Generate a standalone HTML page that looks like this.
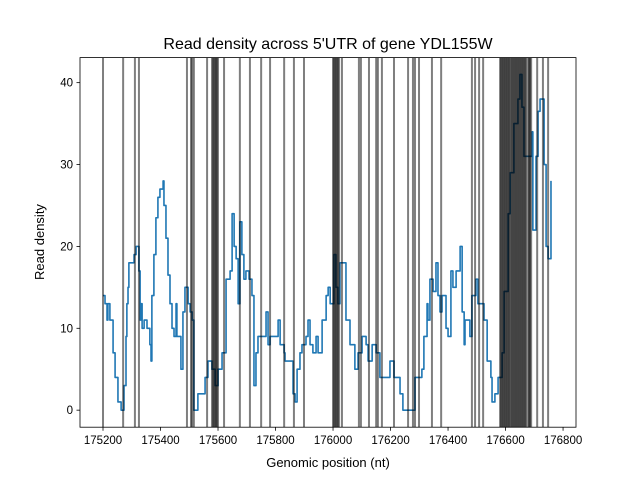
<!DOCTYPE html>
<html><head><meta charset="utf-8"><style>
body{margin:0;background:#fff;}
svg{font-family:"Liberation Sans","DejaVu Sans",sans-serif;}
</style></head><body>
<svg id="chart" width="640" height="480" viewBox="0 0 640 480">
<rect width="640" height="480" fill="#fff"/>
<text x="328" y="49" text-anchor="middle" font-size="16">Read density across 5'UTR of gene YDL155W</text>
<text x="328" y="467" text-anchor="middle" font-size="13">Genomic position (nt)</text>
<text x="44" y="242" text-anchor="middle" font-size="13" transform="rotate(-90 44 242)">Read density</text>
<g id="marks"></g>
<g id="axes"></g>
</svg>
<script>
const positions=[175200,175207,175214,175217,175224,175235,175242,175252,175263,175273,175280,175283,175287,175290,175308,175315,175325,175329,175332,175336,175343,175353,175363,175367,175370,175377,175384,175391,175398,175409,175412,175419,175426,175433,175440,175447,175454,175457,175468,175471,175478,175485,175496,175503,175510,175516,175530,175555,175565,175579,175590,175600,175614,175628,175642,175649,175656,175663,175670,175676,175683,175690,175697,175708,175718,175725,175732,175739,175767,175774,175781,175809,175816,175830,175833,175861,175868,175875,175885,175892,175906,175913,175920,175930,175941,175948,175962,175976,175983,175990,176003,176010,176017,176024,176045,176059,176076,176087,176101,176115,176122,176136,176150,176163,176184,176198,176212,176233,176243,176285,176309,176316,176327,176330,176337,176348,176358,176365,176372,176379,176393,176400,176410,176417,176428,176442,176449,176456,176459,176476,176483,176497,176504,176525,176536,176549,176553,176563,176574,176588,176595,176609,176616,176629,176643,176650,176657,176664,176678,176692,176695,176706,176713,176720,176734,176741,176748,176758];
const densities=[14,13,11,13,11,7,4,1,0,3,9,13,15,18,19,20,17,11,13,10,11,10,8,6,14,19,23.5,26,27,28,25,21,16.5,13,10,9,13,9,9,5,12,15,13,12,11,0,2,4,6,5,3,5,7,16,17,24,20,18.5,13,23,19,16,17,16,14,3,7,9,12,8,9,11,8,7,6,2,1,5,7,8,9,11,8,7,9,7,11,14,15,13,19,15,13,18,11,8,5,7,9,8,6,8,7,4,4,6,4,2,0,4,5,9,13,11,16,14.5,18,14,12,14,10,9,17,15,17,20,12,8,11,9,14,16,13,11,6,4,1,2,4,7,14.5,24,29,35,38,41,37,31,31,34,22,31,36.5,38,30,20,18.5,28];
const sites=[175200,175270,175311,175325,175492,175506,175510,175516,175562,175579,175583,175586,175590,175593,175596,175600,175621,175676,175711,175750,175781,175830,175864,175899,176000,176003,176007,176010,176014,176017,176021,176031,176090,176097,176125,176150,176156,176170,176212,176261,176278,176285,176299,176344,176376,176483,176494,176508,176522,176581,176584,176588,176591,176595,176598,176602,176605,176609,176612,176616,176620,176623,176627,176630,176634,176637,176641,176644,176648,176651,176655,176658,176662,176665,176669,176672,176679,176682,176685,176689,176710,176730,176748];
const xTicks=[175200,175400,175600,175800,176000,176200,176400,176600,176800];
const yTicks=[0,10,20,30,40];
const L=80,R=576,T=57.6,B=427.2;
const xMin=175120,xMax=176845,yMin=-2.08,yMax=43.06;
const sx=v=>L+(v-xMin)/(xMax-xMin)*(R-L);
const sy=v=>B-(v-yMin)/(yMax-yMin)*(B-T);
const NS="http://www.w3.org/2000/svg";
const marks=document.getElementById('marks'),axes=document.getElementById('axes');
function mk(tag,attrs,parent){const e=document.createElementNS(NS,tag);for(const k in attrs)e.setAttribute(k,attrs[k]);parent.appendChild(e);return e;}
let d='';
for(let i=0;i<positions.length;i++){
  const x=sx(positions[i]).toFixed(2),y=sy(densities[i]).toFixed(2);
  if(i===0)d+='M'+x+','+y;else d+=' H'+x+' V'+y;
}
const line=mk('path',{d:d,fill:'none',stroke:'#1f77b4','stroke-width':1.6,'stroke-linejoin':'round'},marks);


sites.forEach(s=>{
  const v=mk('line',{x1:sx(s),x2:sx(s),y1:T,y2:B,stroke:'#000','stroke-opacity':0.5,'stroke-width':2},marks);
  
  
});
const fr=mk('rect',{x:L,y:T,width:R-L,height:B-T,fill:'none',stroke:'#000','stroke-width':0.8},axes);


xTicks.forEach(t=>{
  const x=sx(t);
  const tk=mk('line',{x1:x,x2:x,y1:B,y2:B+3.5,stroke:'#000','stroke-width':0.8},axes);
  
  
  const tx=mk('text',{x:x,y:B+17,'text-anchor':'middle','font-size':11.5},axes);
  tx.textContent=t;
  
  
});
yTicks.forEach(t=>{
  const y=sy(t);
  const tk=mk('line',{x1:L-3.5,x2:L,y1:y,y2:y,stroke:'#000','stroke-width':0.8},axes);
  
  
  const tx=mk('text',{x:L-7,y:y+4,'text-anchor':'end','font-size':11.5},axes);
  tx.textContent=t;
  
  
});
</script>
</body></html>
